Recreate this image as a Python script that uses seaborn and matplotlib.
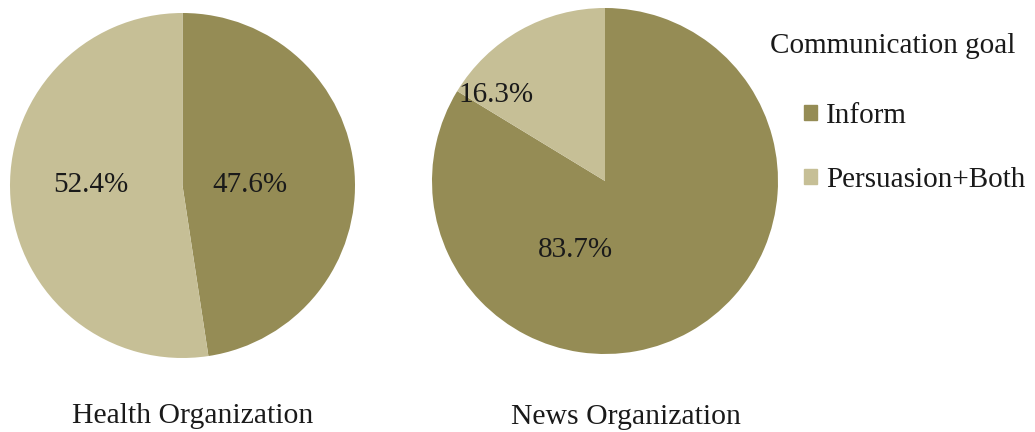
import matplotlib
matplotlib.use("Agg")
from matplotlib import pyplot as plt
import matplotlib.patches as mpatches
import seaborn as sns

# data
organizations = ["Health Organization", "News Organization"]
goals = ["Inform", "Persuasion+Both"]
inform_pct = [47.6, 83.7]
persuasion_pct = [52.4, 16.3]
legend_title = "Communication goal"

sns.set_theme(style="white")
plt.rcParams["font.family"] = ["Liberation Serif", "DejaVu Serif"]

palette = sns.color_palette(["#958c55", "#c6bf96"])

W, H = 1035, 432
fig = plt.figure(figsize=(W / 100, H / 100), dpi=100)

# axes boxes in pixels (left, top, size) and label spots in radius units
boxes = [(10, 13, 345), (432, 8, 346)]
label_spots = [
    [(0.39, 0.0), (-0.53, 0.0)],
    [(-0.17, -0.40), (-0.63, 0.50)],
]
name_spots = [(0.06, -1.375), (0.12, -1.405)]

for idx, name in enumerate(organizations):
    left, top, size = boxes[idx]
    ax = fig.add_axes([left / W, (H - top - size) / H, size / W, size / H])
    values = [inform_pct[idx], persuasion_pct[idx]]
    wedges, _ = ax.pie(
        values,
        colors=palette,
        startangle=90,
        counterclock=False,
        radius=1,
        wedgeprops={"linewidth": 0},
    )
    for val, (lx, ly) in zip(values, label_spots[idx]):
        ax.text(lx, ly, f"{val:.1f}%", ha="center", va="center",
                fontsize=21, color="#1a1a1a")
    nx, ny = name_spots[idx]
    ax.text(nx, ny, name, ha="center", va="baseline", fontsize=21.4,
            color="#1a1a1a")
    ax.set_xlim(-1, 1)
    ax.set_ylim(-1, 1)
    ax.set_aspect("equal")
    ax.axis("off")

fig.text(770 / W, 1 - 53 / H, legend_title, ha="left", va="baseline",
         fontsize=21, color="#1a1a1a")
handles = [mpatches.Patch(color=c, label=g) for c, g in zip(palette, goals)]
fig.legend(
    handles=handles,
    loc="upper left",
    bbox_to_anchor=(798 / W, 1 - 97 / H),
    frameon=False,
    fontsize=21,
    handlelength=0.45,
    handleheight=0.45,
    handletextpad=0.3,
    labelspacing=1.3,
    borderaxespad=0,
    borderpad=0.2,
    labelcolor="#1a1a1a",
)

fig.savefig("out.png", dpi=100, facecolor="white")
